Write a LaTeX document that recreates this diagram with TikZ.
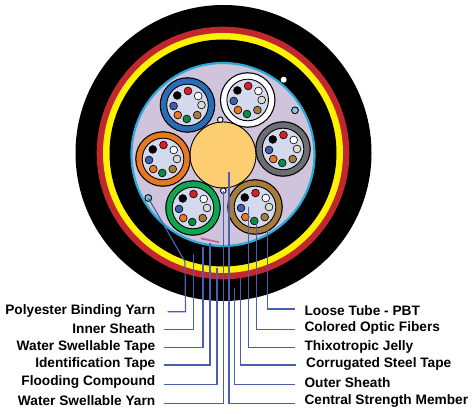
\documentclass[tikz,border=0pt]{standalone}
\usepackage{fontspec}
\setmainfont{Liberation Sans}
\usetikzlibrary{calc}
\definecolor{leader}{HTML}{4A60AC}
\definecolor{ringred}{HTML}{C1272D}
\definecolor{ringyellow}{HTML}{FFF200}
\definecolor{ringcyan}{HTML}{29ABD9}
\definecolor{yarncyan}{HTML}{7CCFE0}
\definecolor{jelly}{HTML}{CFC4DC}
\definecolor{tubecore}{HTML}{D5D9EE}
\definecolor{member}{HTML}{FDCD72}
\definecolor{tapepink}{HTML}{C9619F}
\definecolor{tubeblue}{HTML}{2A6DB5}
\definecolor{tubegray}{HTML}{6D6E71}
\definecolor{tubeorange}{HTML}{E87722}
\definecolor{tubegreen}{HTML}{0FA650}
\definecolor{tubebrown}{HTML}{A67C3D}
\definecolor{fbred}{HTML}{D2232A}
\definecolor{fbblue}{HTML}{3F5FA8}
\definecolor{fbgray}{HTML}{D8DCCB}
\definecolor{fbgreen}{HTML}{0B8A45}
\definecolor{fbbrown}{HTML}{A67C3D}
\definecolor{fborange}{HTML}{E87722}
\tikzset{
  x=1pt,y=-1pt,
  leaderline/.style={draw=leader,line width=1.2pt},
  calloutl/.style={font=\bfseries\fontsize{13.7}{13.7}\selectfont,anchor=east,inner sep=0pt,text=black},
  calloutr/.style={font=\bfseries\fontsize{13.7}{13.7}\selectfont,anchor=west,inner sep=0pt,text=black},
  outlined/.style={draw=black,line width=0.9pt},
}
% One loose tube: coloured wall, core and a ring of eight fibres
\newcommand{\loosetube}[3]{%
  \fill[black] (#1,#2) circle[radius=27.8];
  \fill[#3] (#1,#2) circle[radius=26.6];
  \filldraw[fill=tubecore,outlined] (#1,#2) circle[radius=20.8];
  \foreach \ang/\col in {137/black,88/fbred,40/white,0/fbgray,-46/fbbrown,-93/fbgreen,-134/fborange,-176/fbblue}{
    \filldraw[fill=\col,draw=black,line width=0.6pt] ($(#1,#2)+(\ang:14 and -14)$) circle[radius=3.9];
  }%
}
\begin{document}
\begin{tikzpicture}
\useasboundingbox (0,0) rectangle (474,414);
\fill[white] (0,0) rectangle (474,414);
% Armour layers
\fill[black] (223.5,153) circle[radius=148];
\fill[ringred] (223,153) circle[radius=126.3];
\fill[ringyellow] (223,153) circle[radius=120];
\fill[black] (223,153) circle[radius=113.5];
% Inner sheath and jelly
\filldraw[fill=jelly,draw=ringcyan,line width=2.2pt] (223,154.5) circle[radius=91.5];
\draw[tapepink,line width=1.8pt] (200.7,238.3) -- (219.3,242.3);
\filldraw[fill=member,outlined] (223,155) circle[radius=33];
% Filler yarns
\filldraw[fill=white,outlined] (220.3,119.7) circle[radius=2.8];
\filldraw[fill=white,outlined] (223.3,190.7) circle[radius=2.8];
\fill[white] (283.7,79.7) circle[radius=3];
\filldraw[fill=yarncyan,outlined] (295,110.3) circle[radius=3.4];
\filldraw[fill=yarncyan,outlined] (148.3,198) circle[radius=3.4];
% Loose tubes
\loosetube{187.5}{105}{tubeblue}
\loosetube{247.7}{100}{white}
\loosetube{283}{149}{tubegray}
\loosetube{163}{159}{tubeorange}
\loosetube{193}{208}{tubegreen}
\loosetube{255}{207}{tubebrown}
% Callouts
\node[calloutl] (poly) at (155.5,310.7) {Polyester Binding Yarn};
\node[calloutl] (inner) at (155.5,328.2) {Inner Sheath};
\node[calloutl] (wst) at (155.5,346.5) {Water Swellable Tape};
\node[calloutl] (ident) at (155.5,364.3) {Identification Tape};
\node[calloutl] (flood) at (155.5,382.3) {Flooding Compound};
\node[calloutl] (wsy) at (155.5,400.5) {Water Swellable Yarn};
\node[calloutr] (loose) at (304.3,310.7) {Loose Tube - PBT};
\node[calloutr] (fibers) at (304.3,328.2) {Colored Optic Fibers};
\node[calloutr] (jellylbl) at (304.3,346.5) {Thixotropic Jelly};
\node[calloutr] (steel) at (306,364.3) {Corrugated Steel Tape};
\node[calloutr] (outer) at (304.3,382.3) {Outer Sheath};
\node[calloutr] (csm) at (304.3,400.5) {Central Strength Member};
% Leader targets inside the cable
\coordinate (tpoly) at (148.3,198);
\coordinate (tinner) at (193.5,254);
\coordinate (twst) at (203,246.7);
\coordinate (tident) at (210,243);
\coordinate (tflood) at (217,268);
\coordinate (twsy) at (223.8,190.7);
\coordinate (tloose) at (267.6,230);
\coordinate (tfibers) at (256.7,222.7);
\coordinate (tjelly) at (248.6,207.3);
\coordinate (tsteel) at (240.2,278);
\coordinate (touter) at (234.7,288.3);
\coordinate (tcsm) at (229,171.7);
% Leaders, each ending a short gap from its callout
\draw[leaderline] (tpoly) -- (185,261.7) -- (185.5,311.7) -- ([xshift=12pt]poly.east |- 0,311.7);
\draw[leaderline] (tinner) -- (193.5,329.3) -- ([xshift=8pt]inner.east |- 0,329.3);
\draw[leaderline] (twst) -- (203,347.3) -- ([xshift=8pt]wst.east |- 0,347.3);
\draw[leaderline] (tident) -- (210,365) -- ([xshift=8pt]ident.east |- 0,365);
\draw[leaderline] (tflood) -- (217,384.3) -- ([xshift=8pt]flood.east |- 0,384.3);
\draw[leaderline] (twsy) -- (223.8,403.3) -- ([xshift=8pt]wsy.east |- 0,403.3);
\draw[leaderline] (tloose) -- (267.6,309) -- ([xshift=-9pt]loose.west |- 0,309);
\draw[leaderline] (tfibers) -- (256.7,329.3) -- ([xshift=-9pt]fibers.west |- 0,329.3);
\draw[leaderline] (tjelly) -- (248.6,347.3) -- ([xshift=-9pt]jellylbl.west |- 0,347.3);
\draw[leaderline] (tsteel) -- (240.2,365) -- ([xshift=-10pt]steel.west |- 0,365);
\draw[leaderline] (touter) -- (234.7,384.3) -- ([xshift=-9pt]outer.west |- 0,384.3);
\draw[leaderline] (tcsm) -- (229,403.3) -- ([xshift=-9pt]csm.west |- 0,403.3);
\end{tikzpicture}
\end{document}
